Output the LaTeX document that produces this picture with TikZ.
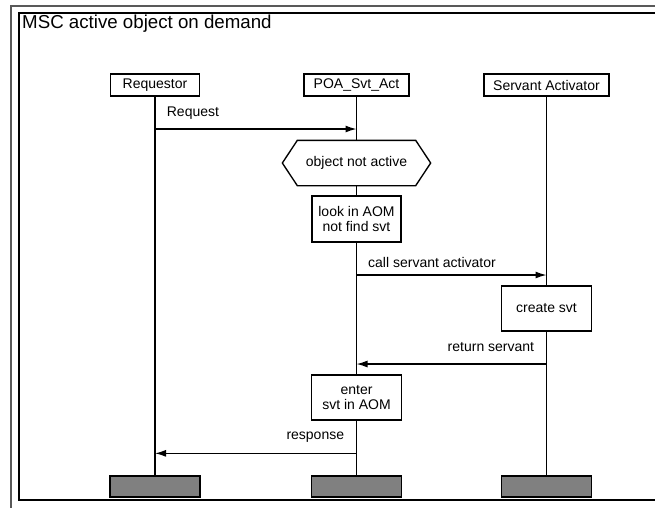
\documentclass[tikz,border=0pt]{standalone}
\usepackage{fontspec}
\setmainfont{Liberation Sans}
\usetikzlibrary{arrows.meta}
\newlength{\du}
\setlength{\du}{15\unitlength}
\newcommand{\mscfont}{\fontsize{14}{14.5}\selectfont}
\definecolor{dialinecolor}{rgb}{0.000000, 0.000000, 0.000000}
\definecolor{footcolor}{rgb}{0.500000, 0.500000, 0.500000}
\tikzset{
  mscline/.style={line width=0.090000\du, draw=dialinecolor},
  instbox/.style={mscline, fill=white, inner sep=0pt, minimum height=1.466667\du, font=\mscfont},
  instend/.style={mscline, line width=0.130000\du, fill=footcolor, minimum width=6.000000\du, minimum height=1.400000\du, inner sep=0pt},
  actbox/.style={mscline, fill=white, inner sep=0pt, align=center, font=\mscfont},
  msg/.style={mscline, -{Latex[length=11pt,width=7pt]}},
  msglabel/.style={inner sep=0pt, font=\mscfont},
}
\begin{document}
\begin{tikzpicture}
\pgftransformxscale{1.000000}
\pgftransformyscale{-1.000000}
\useasboundingbox (0\du,0\du) rectangle (43.666667\du,33.800000\du);
\clip (0\du,0\du) rectangle (43.666667\du,33.800000\du);
% frame
\draw[line width=0.120000\du, draw=black!65] (0.733333\du,0.400000\du) rectangle (46.000000\du,36.000000\du);
\draw[mscline] (1.266667\du,0.866667\du) rectangle (46.000000\du,33.333333\du);
\node[anchor=west, inner sep=0pt, font=\fontsize{18.7}{22}\selectfont] (title) at (1.466667\du,1.600000\du){MSC active object on demand};
% instances
\node[instbox, minimum width=5.933333\du] (req) at (10.333333\du,5.666667\du){Requestor};
\node[instbox, minimum width=7.000000\du] (poa) at (23.766667\du,5.666667\du){POA\_Svt\_Act};
\node[instbox, minimum width=8.333333\du] (sva) at (36.433333\du,5.666667\du){Servant Activator};
\node[instend] (reqend) at (10.333333\du,32.433333\du){};
\node[instend] (poaend) at (23.766667\du,32.433333\du){};
\node[instend] (svaend) at (36.433333\du,32.433333\du){};
% actions
\node[actbox, draw=none, minimum width=7.800000\du, minimum height=2.933333\du] (cond) at (23.766667\du,10.866667\du){object not active};
\draw[mscline] (cond.north west) -- (cond.north east) -- ([xshift=1.000000\du]cond.east) -- (cond.south east) -- (cond.south west) -- ([xshift=-1.000000\du]cond.west) -- cycle;
\node[actbox, minimum width=5.933333\du, minimum height=3.066667\du] (look) at (23.766667\du,14.600000\du){look in AOM\\not find svt};
\node[actbox, minimum width=6.000000\du, minimum height=3.000000\du] (create) at (36.433333\du,20.566667\du){create svt};
\node[actbox, minimum width=6.000000\du, minimum height=3.000000\du] (enter) at (23.766667\du,26.500000\du){enter\\svt in AOM};
% lifelines
\draw[mscline] (req) -- (reqend);
\draw[mscline] (poa) -- (cond);
\draw[mscline] (cond) -- (look);
\draw[mscline] (look) -- (enter);
\draw[mscline] (enter) -- (poaend);
\draw[mscline] (sva) -- (create);
\draw[mscline] (create) -- (svaend);
% messages
\coordinate (m1) at (0\du,8.600000\du);
\coordinate (m2) at (0\du,18.333333\du);
\coordinate (m3) at (0\du,24.266667\du);
\coordinate (m4) at (0\du,30.222222\du);
\draw[msg] (req |- m1) -- (poa |- m1);
\draw[msg] (poa |- m2) -- (sva |- m2);
\draw[msg] (sva |- m3) -- (poa |- m3);
\draw[msg] (poa |- m4) -- (req |- m4);
\node[msglabel, anchor=west] (l1) at (11.111111\du,7.566667\du){Request};
\node[msglabel, anchor=west] (l2) at (24.533333\du,17.466667\du){call servant activator};
\node[msglabel, anchor=east] (l3) at (35.620000\du,23.166667\du){return servant};
\node[msglabel, anchor=east] (l4) at (22.953333\du,29.133333\du){response};
\end{tikzpicture}
\end{document}
